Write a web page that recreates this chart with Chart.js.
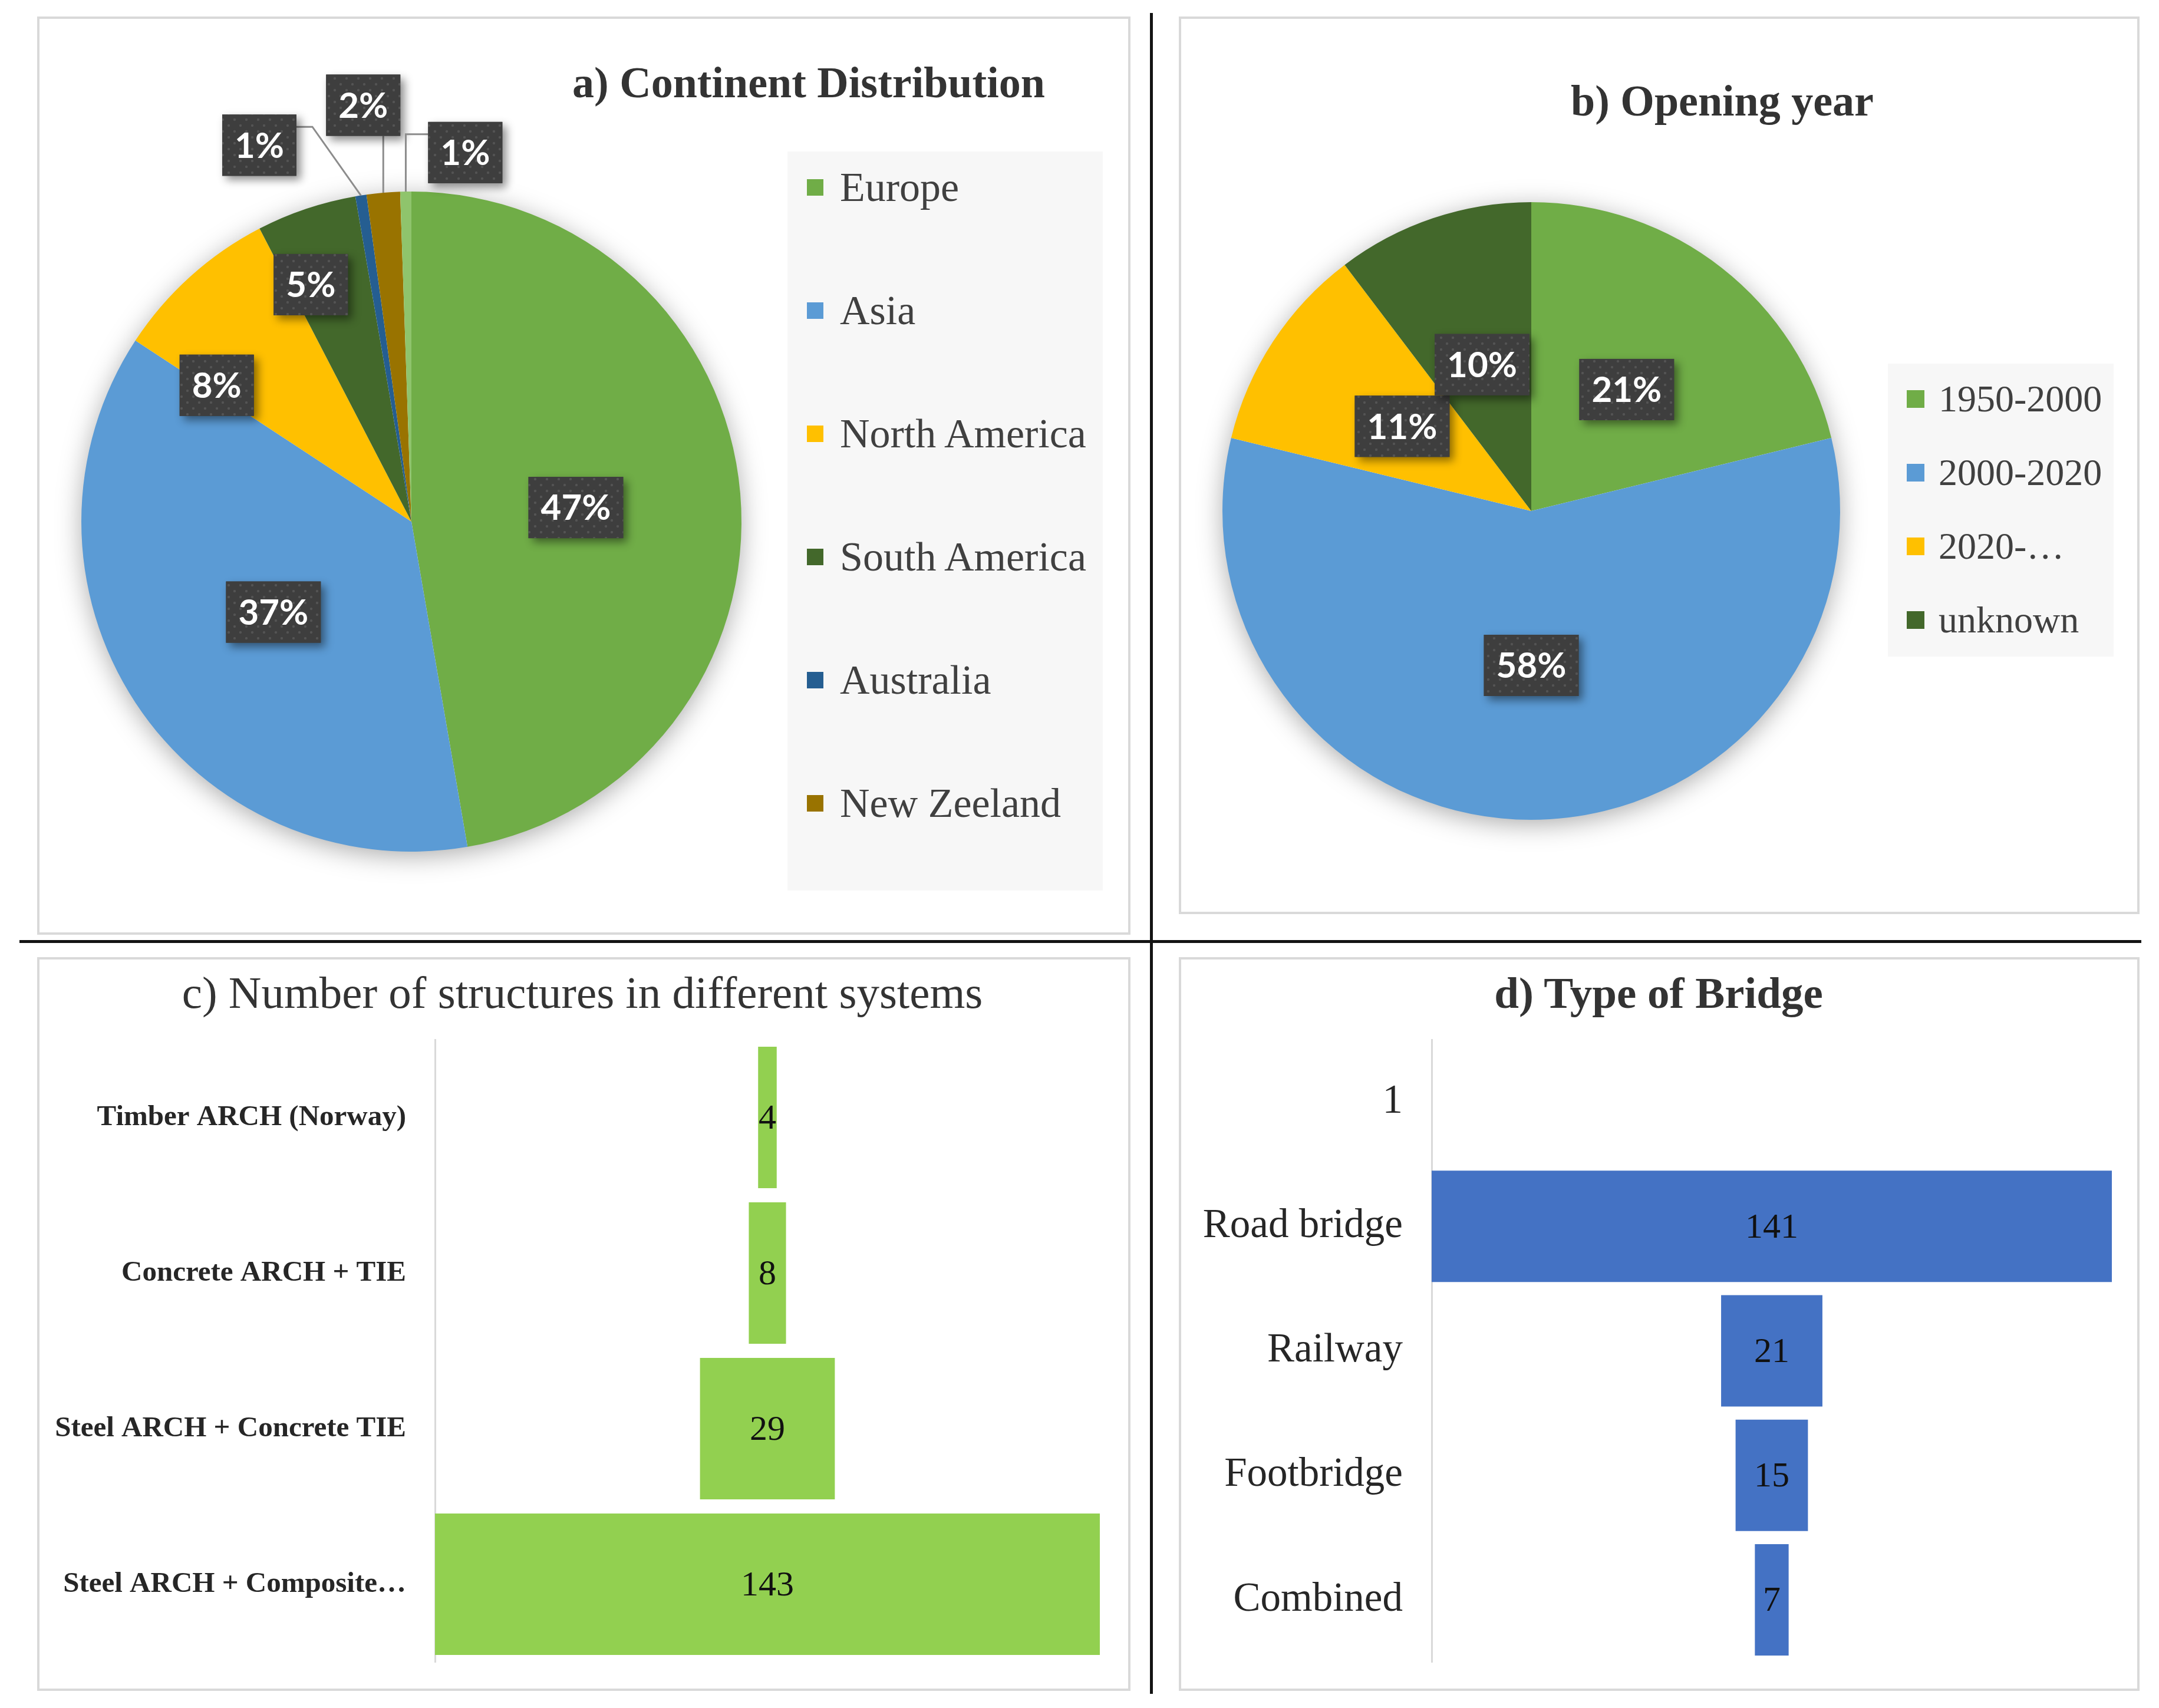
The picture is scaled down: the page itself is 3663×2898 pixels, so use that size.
<!DOCTYPE html>
<html>
<head>
<meta charset="utf-8">
<script src="https://cdn.jsdelivr.net/npm/chart.js@4.4.1/dist/chart.umd.min.js"></script>
<style>
  html, body { margin: 0; padding: 0; background: #fff; }
  body { width: 3663px; height: 2898px; position: relative; overflow: hidden; font-family: 'Liberation Serif', serif; }
  .panel { position: absolute; border: 4px solid #d9d9d9; box-sizing: border-box; }
  canvas { position: absolute; }
  .sep { position: absolute; background: #141414; }
  .title { position: absolute; color: #333; white-space: nowrap; transform: translate(-50%, -50%); line-height: 1; }
  .legend { position: absolute; background: #f7f7f7; }
  .legend .item { position: absolute; display: flex; align-items: center; white-space: nowrap; color: #404040; }
  .legend .mark { display: inline-block; flex: none; }
</style>
</head>
<body>
<div class="panel" style="left:63px;top:28px;width:1855px;height:1558px"></div>
<div class="panel" style="left:2000px;top:28px;width:1630px;height:1523px"></div>
<div class="panel" style="left:63px;top:1624px;width:1855px;height:1245px"></div>
<div class="panel" style="left:2000px;top:1624px;width:1630px;height:1245px"></div>
<div class="sep" style="left:1951px;top:22px;width:5px;height:2852px"></div>
<div class="sep" style="left:33px;top:1595px;width:3600px;height:5px"></div>

<canvas id="pieA" width="1855" height="1558" style="left:63px;top:28px"></canvas>
<canvas id="pieB" width="1630" height="1523" style="left:2000px;top:28px"></canvas>
<canvas id="barC" width="1855" height="1245" style="left:63px;top:1624px"></canvas>
<canvas id="barD" width="1630" height="1245" style="left:2000px;top:1624px"></canvas>

<div id="legA" class="legend" style="left:1336px;top:257px;width:535px;height:1254px"></div>
<div id="legB" class="legend" style="left:3203px;top:617px;width:383px;height:497px"></div>

<div class="title" style="left:1372px;top:140px;font-weight:bold;font-size:74px">a) Continent Distribution</div>
<div class="title" style="left:2922px;top:171px;font-weight:bold;font-size:74px">b) Opening year</div>
<div class="title" style="left:988px;top:1684px;font-size:77px">c) Number of structures in different systems</div>
<div class="title" style="left:2814px;top:1684px;font-weight:bold;font-size:75px">d) Type of Bridge</div>

<script>
// continent distribution (counts, total 184)
const continentLabels = ['Europe', 'Asia', 'North America', 'South America', 'Australia', 'New Zeeland', 'Other'];
const continentCounts = [87, 68, 15, 9, 1, 3, 1];
const continentColors = ['#70AD47', '#5B9BD5', '#FFC000', '#43682B', '#255E91', '#997300', '#8FC46C'];

// opening year
const yearLabels = ['1950-2000', '2000-2020', '2020-…', 'unknown'];
const yearCounts = [39, 106, 20, 19];
const yearColors = ['#70AD47', '#5B9BD5', '#FFC000', '#43682B'];

// structural systems
const systemLabels = ['Timber ARCH (Norway)', 'Concrete ARCH + TIE', 'Steel ARCH + Concrete TIE', 'Steel ARCH + Composite…'];
const systemCounts = [4, 8, 29, 143];

// bridge type
const bridgeLabels = ['1', 'Road bridge', 'Railway', 'Footbridge', 'Combined'];
const bridgeCounts = [null, 141, 21, 15, 7];

const dots = (() => {
    const c = document.createElement('canvas');
    c.width = c.height = 20;
    const g = c.getContext('2d');
    g.fillStyle = '#3e3e3e';
    g.fillRect(0, 0, 20, 20);
    g.fillStyle = '#545454';
    g.beginPath(); g.arc(5, 5, 2.2, 0, Math.PI * 2); g.fill();
    g.beginPath(); g.arc(15, 15, 2.2, 0, Math.PI * 2); g.fill();
    return c;
})();

// soft shadow under the whole pie
const pieShadow = {
    id: 'pieShadow',
    beforeDatasetsDraw(chart) {
        const arc = chart.getDatasetMeta(0).data[0];
        const ctx = chart.ctx;
        ctx.save();
        ctx.shadowColor = 'rgba(0,0,0,0.35)';
        ctx.shadowBlur = 45;
        ctx.shadowOffsetY = 8;
        ctx.fillStyle = '#fff';
        ctx.beginPath();
        ctx.arc(arc.x, arc.y, arc.outerRadius - 2, 0, Math.PI * 2);
        ctx.fill();
        ctx.restore();
    }
};

// percentage boxes, Excel style
const pctLabels = {
    id: 'pctLabels',
    afterDatasetsDraw(chart, args, opts) {
        const ctx = chart.ctx;
        const values = chart.data.datasets[0].data;
        const total = values.reduce((a, b) => a + b, 0);
        const place = opts.place || {};
        const pattern = ctx.createPattern(dots, 'repeat');
        chart.getDatasetMeta(0).data.forEach((arc, i) => {
            const text = Math.round(values[i] / total * 100) + '%';
            const mid = (arc.startAngle + arc.endAngle) / 2;
            const r = arc.outerRadius;
            let x = arc.x + Math.cos(mid) * r * 0.5;
            let y = arc.y + Math.sin(mid) * r * 0.5;
            let frac = 0.5;
            if (place[i]) {
                const a = place[i][0] * Math.PI / 180;
                frac = place[i][1];
                x = arc.x + Math.sin(a) * r * frac;
                y = arc.y - Math.cos(a) * r * frac;
            }
            ctx.save();
            ctx.font = 'bold 60px Lato';
            const w = ctx.measureText(text).width + 42;
            const h = 104;
            const L = x - w / 2, T = y - h / 2;
            if (frac > 1) {
                const px = arc.x + Math.cos(mid) * r;
                const py = arc.y + Math.sin(mid) * r;
                ctx.strokeStyle = '#8c8c8c';
                ctx.lineWidth = 3;
                ctx.beginPath();
                if (px < L) {
                    ctx.moveTo(L, T + h * 0.2);
                    ctx.lineTo(px, T + h * 0.2);
                    ctx.lineTo(px, py);
                } else if (px > L + w) {
                    ctx.moveTo(L + w, T + h * 0.2);
                    ctx.lineTo(L + w + 27, T + h * 0.2);
                    ctx.lineTo(px, py);
                } else {
                    ctx.moveTo(px, T + h);
                    ctx.lineTo(px, py);
                }
                ctx.stroke();
            }
            ctx.shadowColor = 'rgba(0,0,0,0.45)';
            ctx.shadowBlur = 14;
            ctx.shadowOffsetX = 7;
            ctx.shadowOffsetY = 7;
            ctx.fillStyle = '#3e3e3e';
            ctx.fillRect(L, T, w, h);
            ctx.shadowColor = 'transparent';
            ctx.fillStyle = pattern;
            ctx.fillRect(L, T, w, h);
            ctx.fillStyle = '#fff';
            ctx.textAlign = 'center';
            ctx.textBaseline = 'middle';
            ctx.fillText(text, x, y + 2);
            ctx.restore();
        });
    }
};

// html legend built from the chart data
const htmlLegend = {
    id: 'htmlLegend',
    afterUpdate(chart, args, opts) {
        const box = document.getElementById(opts.container);
        box.innerHTML = '';
        const ds = chart.data.datasets[0];
        chart.data.labels.slice(0, opts.count).forEach((label, i) => {
            const item = document.createElement('div');
            item.className = 'item';
            item.style.left = opts.left + 'px';
            item.style.top = (opts.firstY + i * opts.step - 50) + 'px';
            item.style.height = '100px';
            item.style.fontSize = opts.fontSize + 'px';
            const mark = document.createElement('span');
            mark.className = 'mark';
            mark.style.width = mark.style.height = opts.mark + 'px';
            mark.style.marginRight = opts.gap + 'px';
            mark.style.background = ds.backgroundColor[i];
            item.appendChild(mark);
            item.appendChild(document.createTextNode(label));
            box.appendChild(item);
        });
    }
};

// numbers written in the middle of each bar
const barValues = {
    id: 'barValues',
    afterDatasetsDraw(chart) {
        const ctx = chart.ctx;
        ctx.save();
        ctx.font = '60px "Liberation Serif"';
        ctx.fillStyle = '#111';
        ctx.textAlign = 'center';
        ctx.textBaseline = 'middle';
        chart.getDatasetMeta(0).data.forEach((bar, i) => {
            const raw = chart.data.datasets[0].data[i];
            if (!raw) return;
            const p = bar.getCenterPoint();
            ctx.fillText(String(raw[1] - raw[0]), p.x, p.y + 3);
        });
        ctx.restore();
    }
};

function pieConfig(labels, values, colors, pad, legendOpts, place) {
    return {
        type: 'pie',
        data: {
            labels: labels,
            datasets: [{
                data: values,
                backgroundColor: colors,
                borderWidth: 0,
                hoverOffset: 0
            }]
        },
        options: {
            responsive: false,
            animation: false,
            devicePixelRatio: 1,
            layout: { padding: pad },
            plugins: {
                legend: { display: false },
                tooltip: { enabled: false },
                htmlLegend: legendOpts,
                pctLabels: { place: place }
            }
        },
        plugins: [pieShadow, pctLabels, htmlLegend]
    };
}

function funnelConfig(labels, values, color, axisWidth, pad, tickFont, thickness) {
    const half = Math.max(...values.filter(v => v != null)) / 2;
    return {
        type: 'bar',
        data: {
            labels: labels,
            datasets: [{
                data: values.map(v => v == null ? null : [-v / 2, v / 2]),
                backgroundColor: color,
                borderWidth: 0,
                categoryPercentage: 1,
                barPercentage: thickness
            }]
        },
        options: {
            indexAxis: 'y',
            responsive: false,
            animation: false,
            devicePixelRatio: 1,
            layout: { padding: pad },
            plugins: { legend: { display: false }, tooltip: { enabled: false } },
            scales: {
                x: { display: false, min: -half, max: half },
                y: {
                    afterFit: (axis) => {
                        axis.width = axisWidth;
                        axis.paddingTop = 0;
                        axis.paddingBottom = 0;
                    },
                    grid: { display: false, drawTicks: false },
                    border: { display: true, color: '#d9d9d9', width: 3 },
                    ticks: { padding: 49, color: '#262626', font: tickFont, autoSkip: false }
                }
            }
        },
        plugins: [barValues]
    };
}

new Chart(document.getElementById('pieA'), pieConfig(
    continentLabels, continentCounts, continentColors,
    { left: 75, top: 297, right: 660, bottom: 141 },
    { container: 'legA', count: 6, left: 33, firstY: 61, step: 209, fontSize: 70, mark: 28, gap: 28 },
    { 2: [305, 0.72], 3: [337, 0.78], 4: [338, 1.23], 5: [353.4, 1.27], 6: [8.3, 1.13] }
));

new Chart(document.getElementById('pieB'), pieConfig(
    yearLabels, yearCounts, yearColors,
    { left: 74, top: 315, right: 508, bottom: 160 },
    { container: 'legB', count: 4, left: 32, firstY: 60, step: 125, fontSize: 64, mark: 30, gap: 24 },
    {}
));

new Chart(document.getElementById('barC'), funnelConfig(
    systemLabels, systemCounts, '#92D050', 675,
    { top: 140, bottom: 49, right: 52 },
    { family: 'Liberation Serif', size: 49, weight: 'bold' }, 0.91
));

new Chart(document.getElementById('barD'), funnelConfig(
    bridgeLabels, bridgeCounts, '#4472C4', 429,
    { top: 140, bottom: 49, right: 47 },
    { family: 'Liberation Serif', size: 69 }, 0.895
));
</script>
</body>
</html>
